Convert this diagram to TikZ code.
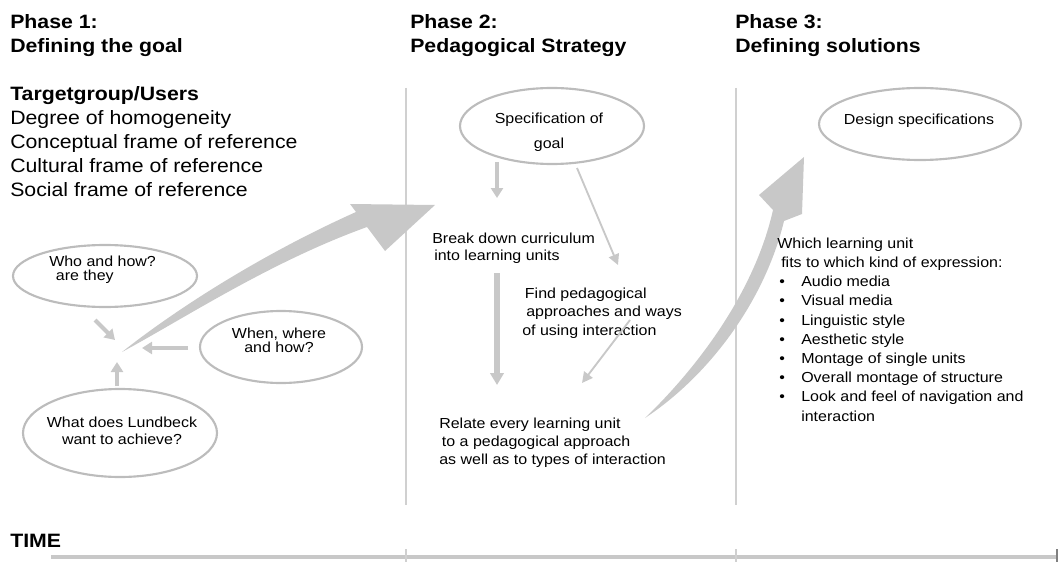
\documentclass[tikz,border=0pt]{standalone}
\usepackage{fontspec}
\setmainfont{Liberation Sans}[FakeStretch=1.1]
\usepackage{tikz}
\usetikzlibrary{shapes,arrows.meta}

\definecolor{arrowgray}{HTML}{C8C8C8}
\definecolor{rim}{HTML}{BCBCBC}
\definecolor{rule}{HTML}{D0D0D0}

\newcommand{\dotitem}{\makebox[18pt][l]{\hspace{1.5pt}\textbullet}}

\begin{document}
\begin{tikzpicture}[
	x=0.75pt, y=-0.75pt,
	head/.style={font=\bfseries\fontsize{14.5}{18}\selectfont, anchor=north west, inner sep=0, align=left},
	plain/.style={font=\fontsize{14.5}{18}\selectfont, anchor=north west, inner sep=0, align=left},
	note/.style={font=\fontsize{10.9}{13.5}\selectfont, inner sep=0},
	ellip/.style={ellipse, draw=rim, line width=1.6pt, inner sep=0},
	fat/.style={draw=arrowgray, line width=3pt, -{Triangle[width=9pt,length=7.5pt]}},
	slim/.style={draw=arrowgray, line width=1.4pt, -{Triangle[width=8pt,length=8pt]}},
	divider/.style={draw=rule, line width=1.2pt}
]
\useasboundingbox (0,0) rectangle (1059,563);

\node[head] (phase1) at (10,14) {Phase 1:\\Defining the goal};
\node[head] (phase2) at (410,14) {Phase 2:\\Pedagogical Strategy};
\node[head] (phase3) at (735,14) {Phase 3:\\Defining solutions};

\node[plain] (users) at (10,86) {\textbf{Targetgroup/Users}\\Degree of homogeneity\\Conceptual frame of reference\\Cultural frame of reference\\Social frame of reference};

\draw[divider] (406,88) -- (406,505);
\draw[divider] (736,88) -- (736,505);

% phase 1
\node[ellip, minimum width=138pt, minimum height=46.5pt] (who) at (105,276) {};
\node[ellip, minimum width=121.5pt, minimum height=54pt] (when) at (281,347) {};
\node[ellip, minimum width=145.5pt, minimum height=66pt] (lund) at (120,433) {};
\node[note, anchor=north west, align=left, font=\fontsize{10.9}{10.5}\selectfont] (whotxt) at (49,255.4) {Who and how?\\\hspace{5pt}are they};
\node[note, anchor=north, align=center, font=\fontsize{10.9}{10.5}\selectfont] (whentxt) at (279,327.4) {When, where\\and how?};
\node[note, anchor=north, align=center, font=\fontsize{10.9}{12.75}\selectfont] (lundtxt) at (122,416.4) {What does Lundbeck\\want to achieve?};

\coordinate (whofoot) at (95,320);
\coordinate (whenfoot) at (188,348);
\coordinate (lundfoot) at (117,386);
\coordinate (hub1) at (115,340);
\coordinate (hub2) at (142,348);
\coordinate (hub3) at (117,362);
\draw[fat] (whofoot) -- (hub1);
\draw[fat] (whenfoot) -- (hub2);
\draw[fat] (lundfoot) -- (hub3);

\fill[arrowgray] (122,352) .. controls (175,310) and (260,255) .. (356,212) -- (350,204) -- (435,205) -- (385,251) -- (367,227) .. controls (270,262) and (185,318) .. (122,352) -- cycle;

% phase 2
\node[ellip, minimum width=138pt, minimum height=57pt] (spec) at (552,126) {};
\node[note, anchor=north, align=center, font=\fontsize{10.9}{18.75}\selectfont] (spectxt) at (549,112.4) {Specification of\\goal};
\node[note, anchor=north west, align=left, font=\fontsize{10.9}{12.75}\selectfont] (breaktxt) at (432,232.4) {Break down curriculum\\\hspace{1.5pt}into learning units};
\node[note, anchor=north west, align=left, font=\fontsize{10.9}{13.9}\selectfont] (findtxt) at (522,287.4) {\hspace{2pt}Find pedagogical\\\hspace{3pt}approaches and ways\\of using interaction};
\node[note, anchor=north west, align=left] (relatetxt) at (439,417.4) {Relate every learning unit\\\hspace{2pt}to a pedagogical approach\\as well as to types of interaction};

\coordinate (specfoot) at (497,162);
\coordinate (speclink) at (577,168);
\coordinate (breaktop) at (497,198);
\coordinate (breakfoot) at (497,273);
\coordinate (findtop) at (618,265);
\coordinate (findfoot) at (630,320);
\coordinate (relatetop) at (497,385);
\coordinate (relatelink) at (582,383);
\draw[fat] (specfoot) -- (breaktop);
\draw[slim] (speclink) -- (findtop);
\draw[fat, line width=3.8pt, -{Triangle[width=10pt,length=9pt]}] (breakfoot) -- (relatetop);
\draw[slim] (findfoot) -- (relatelink);

\fill[arrowgray] (645,418) .. controls (700,365) and (755,290) .. (773,210) -- (759,195) -- (804,157) -- (802,214) -- (784,221) .. controls (765,300) and (710,375) .. (645,418) -- cycle;

% phase 3
\node[ellip, minimum width=151.5pt, minimum height=54pt] (design) at (920,124) {};
\node[note, anchor=base] (designtxt) at (919,125) {Design specifications};
\node[note, anchor=north west, align=left, font=\fontsize{10.9}{14.4}\selectfont] (expr) at (777,237.4) {Which learning unit\\\hspace{3pt}fits to which kind of expression:\\\dotitem Audio media\\\dotitem Visual media\\\dotitem Linguistic style\\\dotitem Aesthetic style\\\dotitem Montage of single units\\\dotitem Overall montage of structure\\\dotitem Look and feel of navigation and\\\makebox[18pt]{}interaction};

% time axis
\node[head, anchor=base west] (time) at (10,547) {TIME};
\draw[draw=arrowgray, line width=2.4pt] (51,557) -- (1057,557);
\draw[divider, line width=0.8pt] (406,549) -- (406,562);
\draw[divider, line width=0.8pt] (736,549) -- (736,562);
\draw[draw=gray, line width=0.8pt] (1057,549) -- (1057,562);
\end{tikzpicture}
\end{document}
